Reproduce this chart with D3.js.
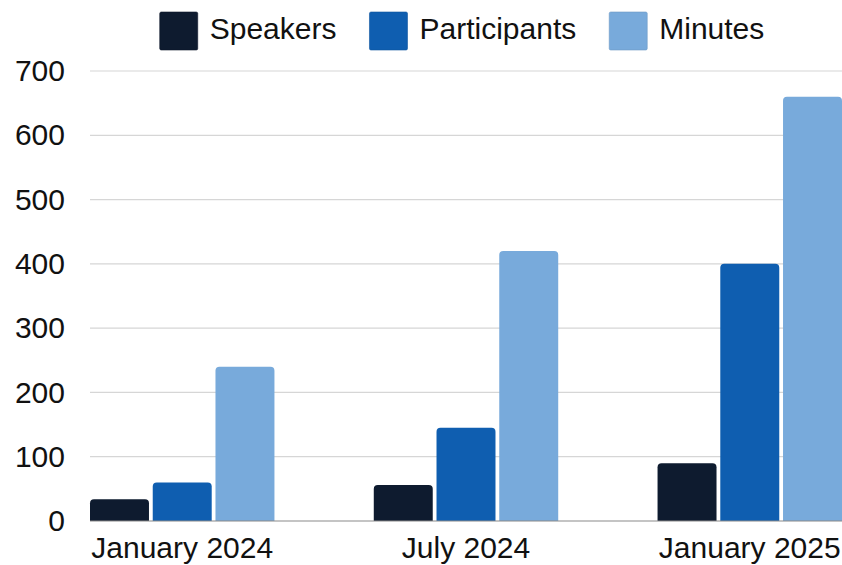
<!DOCTYPE html>
<html>
<head>
<meta charset="utf-8">
<script src="https://cdn.jsdelivr.net/npm/d3@7"></script>
<style>
  html, body { margin: 0; padding: 0; background: #fff; }
  svg { display: block; font-family: "Liberation Sans", Arial, Helvetica, sans-serif; }
</style>
</head>
<body>
<svg id="chart" width="842" height="565"></svg>
<script>
// Event growth by period
const periods = ["January 2024", "July 2024", "January 2025"];
const seriesNames = ["Speakers", "Participants", "Minutes"];
const speakers = [34, 56, 90];
const participants = [60, 145, 400];
const minutes = [240, 420, 660];
const yTicks = [0, 100, 200, 300, 400, 500, 600, 700];
const colors = ["#0e1b2f", "#0f5eb0", "#78aadb"];

const seriesValues = [speakers, participants, minutes];

const svg = d3.select("#chart");
const W = 842, H = 565;
const plotLeft = 90, plotRight = 842, plotTop = 71, plotBottom = 521;

const x0 = d3.scaleBand().domain(periods).range([plotLeft, plotRight]).paddingInner(0.35).paddingOuter(0);
const x1 = d3.scaleBand().domain(seriesNames).range([0, x0.bandwidth()]).paddingInner(0.06);
const y = d3.scaleLinear().domain([0, 700]).range([plotBottom, plotTop]);
const color = d3.scaleOrdinal().domain(seriesNames).range(colors);

// gridlines
svg.append("g")
  .selectAll("line")
  .data(yTicks.filter(d => d > 0))
  .join("line")
  .attr("x1", plotLeft).attr("x2", W)
  .attr("y1", d => y(d)).attr("y2", d => y(d))
  .attr("stroke", "#d6d6d6").attr("stroke-width", 1.2);

// y-axis labels
const yAxis = d3.axisLeft(y).tickValues(yTicks).tickSize(0).tickPadding(0);
const yg = svg.append("g").attr("transform", `translate(${plotLeft - 25},0)`).call(yAxis);
yg.select(".domain").remove();
yg.selectAll("text")
  .attr("font-size", 30)
  .attr("fill", "#111")
  .attr("font-family", "Liberation Sans, Arial, sans-serif");

// bars with rounded top corners
function topRounded(x, yTop, w, h, r) {
  r = Math.min(r, w / 2, h);
  return `M${x},${yTop + h}V${yTop + r}Q${x},${yTop} ${x + r},${yTop}` +
         `H${x + w - r}Q${x + w},${yTop} ${x + w},${yTop + r}V${yTop + h}Z`;
}

const rows = periods.map((p, i) => ({
  period: p,
  items: seriesNames.map((s, j) => ({ series: s, value: seriesValues[j][i] }))
}));

svg.append("g")
  .selectAll("g")
  .data(rows)
  .join("g")
  .attr("transform", d => `translate(${x0(d.period)},0)`)
  .selectAll("path")
  .data(d => d.items)
  .join("path")
  .attr("d", d => topRounded(x1(d.series), y(d.value), x1.bandwidth(), y(0) - y(d.value), 4))
  .attr("fill", d => color(d.series));

// baseline
svg.append("line")
  .attr("x1", plotLeft).attr("x2", W)
  .attr("y1", y(0)).attr("y2", y(0))
  .attr("stroke", "#8a8a8a").attr("stroke-width", 1.2);

// x-axis labels
const xAxis = d3.axisBottom(x0).tickSize(0).tickPadding(0);
const xg = svg.append("g").attr("transform", `translate(0,${plotBottom + 13})`).call(xAxis);
xg.select(".domain").remove();
xg.selectAll("text")
  .attr("font-size", 30)
  .attr("fill", "#111")
  .attr("dy", "0.8em")
  .attr("font-family", "Liberation Sans, Arial, sans-serif");

// legend
const legend = svg.append("g");
const sw = 38, gap = 12, itemGap = 33;
let cx = 0;
seriesNames.forEach(name => {
  const g = legend.append("g").attr("transform", `translate(${cx},0)`);
  g.append("rect")
    .attr("x", 0).attr("y", 12).attr("width", sw).attr("height", sw)
    .attr("rx", 1.5)
    .attr("fill", color(name))
    .attr("stroke", d3.color(color(name)).darker(0.3)).attr("stroke-width", 0.6);
  const t = g.append("text")
    .attr("x", sw + gap).attr("y", 39)
    .attr("font-size", 30)
    .attr("fill", "#111")
    .text(name);
  cx += sw + gap + t.node().getComputedTextLength() + itemGap;
});
const legendW = cx - itemGap;
legend.attr("transform", `translate(${462 - legendW / 2},0)`);
</script>
</body>
</html>
